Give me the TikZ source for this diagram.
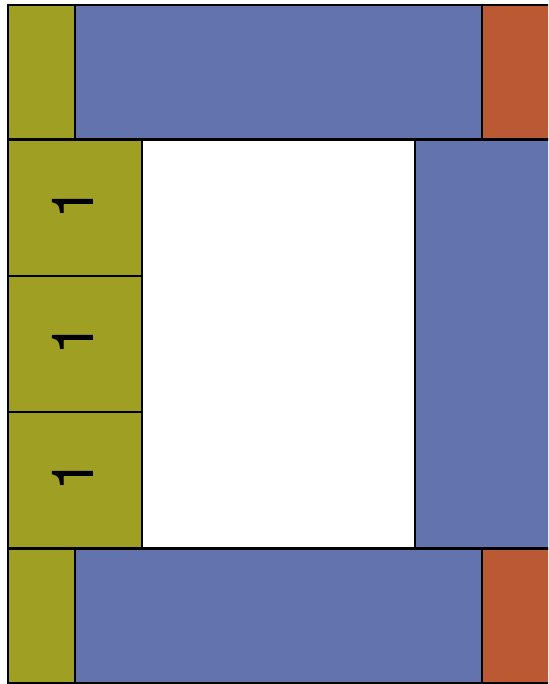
\documentclass[tikz,border=0pt]{standalone}
\usepackage{fontspec}
\newfontfamily\numfont{TeX Gyre Heros}
\definecolor{olive1}{HTML}{9F9F24}
\definecolor{blue1}{HTML}{6273AE}
\definecolor{red1}{HTML}{BA5934}
\begin{document}
\begin{tikzpicture}[x=1pt,y=-1pt,
  cell/.style={draw=black,line width=2pt},
  num/.style={rotate=90,inner sep=0pt}]
\useasboundingbox (0,0) rectangle (548,684);
\clip (0,0) rectangle (548,684);
\fill[white] (0,0) rectangle (548,684);
% top row
\draw[cell,fill=olive1] (7.5,5) rectangle (74.5,139.5);
\draw[cell,fill=blue1] (74.5,5) rectangle (482,139.5);
\draw[cell,fill=red1] (482,5) rectangle (560,139.5);
% middle
\draw[cell,fill=olive1] (7.5,140.5) rectangle (142,275.5);
\draw[cell,fill=olive1] (7.5,275.5) rectangle (142,411.5);
\draw[cell,fill=olive1] (7.5,411.5) rectangle (142,547.5);
\draw[cell,fill=white] (142,140.5) rectangle (415,547.5);
\draw[cell,fill=blue1] (415,140.5) rectangle (560,547.5);
% bottom row
\draw[cell,fill=olive1] (7.5,548.5) rectangle (74.5,683);
\draw[cell,fill=blue1] (74.5,548.5) rectangle (482,683);
\draw[cell,fill=red1] (482,548.5) rectangle (560,683);
% labels
\node[num] (n1) at (73,203.5) {\numfont\fontsize{58pt}{60pt}\selectfont 1};
\node[num] (n2) at (73,339) {\numfont\fontsize{58pt}{60pt}\selectfont 1};
\node[num] (n3) at (73,475) {\numfont\fontsize{58pt}{60pt}\selectfont 1};
\end{tikzpicture}
\end{document}
